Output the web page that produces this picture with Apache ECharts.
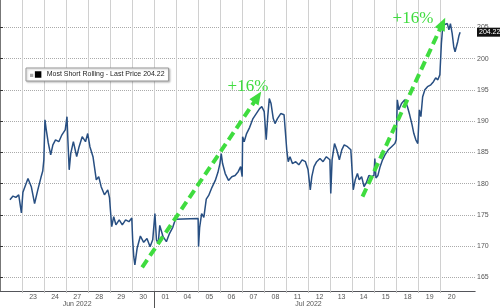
<!DOCTYPE html>
<html><head><meta charset="utf-8">
<script src="https://cdn.jsdelivr.net/npm/echarts@6/dist/echarts.min.js"></script>
<style>html,body{margin:0;padding:0;background:#fff}#c{width:500px;height:308px}</style>
</head><body><div id="c"></div>
<script>
// trading-day labels (day index 1..20; day 0 = 22 Jun, partially visible)
const dayLabels = ['23','24','27','28','29','30','01','04','05','06','07','08','11','12','13','14','15','18','19','20'];
const monthLabels = ['Jun 2022', 'Jul 2022'];
const monthLabelAt = [3.5, 14.0];
const monthStart = [7];
const yTicks = [165, 170, 175, 180, 185, 190, 195, 200, 205];
const xRange = [0, 21.555];
const yRange = [162.81, 209.37];
const seriesName = 'Most Short Rolling';
const lastPrice = 204.22;

// time in trading days since 22 Jun open
const times = [
  0.45,0.59,0.72,0.85,0.97,
  1.04,1.27,1.42,1.57,1.71,1.86,1.94,1.99,
  2.04,2.10,2.19,2.30,2.40,2.52,2.67,2.81,2.96,
  3.04,3.08,3.14,3.21,3.33,3.48,3.59,3.73,3.88,3.98,
  4.08,4.22,4.37,4.48,4.59,4.74,4.89,4.97,
  5.01,5.07,5.16,5.26,5.41,5.55,5.70,5.85,5.98,
  6.02,6.07,6.12,6.22,6.37,6.52,6.67,6.81,6.93,
  7.03,7.10,7.18,7.25,7.40,7.55,7.69,7.84,7.96,
  8.01,8.99,
  9.01,9.06,9.15,9.25,9.36,9.47,9.62,9.77,9.89,9.98,
  10.04,10.10,10.22,10.37,10.52,10.67,10.81,10.92,10.99,
  11.01,11.08,11.19,11.33,11.48,11.63,11.78,11.88,11.99,
  12.08,12.15,12.22,12.30,12.40,12.48,12.59,12.74,12.89,12.98,
  13.02,13.08,13.16,13.27,13.42,13.56,13.71,13.86,13.98,
  14.08,14.15,14.25,14.37,14.52,14.66,14.81,14.97,
  15.01,15.07,15.18,15.28,15.40,15.51,15.62,15.77,15.92,15.98,
  16.03,16.12,16.22,16.30,16.41,16.52,16.62,16.74,16.86,16.97,
  17.01,17.06,17.15,17.25,17.36,17.47,17.62,17.77,17.92,17.98,
  18.03,18.10,18.22,18.37,18.49,18.59,18.70,18.78,18.87,18.96,
  19.03,19.10,19.18,19.28,19.40,19.55,19.67,19.77,19.87,19.96,
  20.03,20.08,20.15,20.23,20.30,20.37,20.44,20.52,20.59,20.65,20.71,20.77,20.83,20.88
];
const prices = [
  177.4,178.0,177.8,178.2,175.3,
  178.6,180.8,179.5,176.8,178.9,181.0,182.0,183.8,
  190.2,188.6,186.5,184.6,186.2,187.0,186.7,187.8,188.6,
  190.7,187.0,182.2,184.8,186.7,184.3,185.9,187.5,186.7,188.0,
  185.9,184.3,180.6,181.1,179.5,178.2,179.0,177.7,
  175.8,173.1,174.7,173.4,174.2,173.4,174.2,173.9,174.5,
  171.0,168.3,167.0,169.6,171.6,170.6,171.2,169.9,171.0,
  175.2,171.0,170.4,173.3,171.5,170.7,172.0,173.0,174.3,
  174.4,174.4,
  169.9,173.0,175.2,174.6,177.5,178.1,179.4,180.5,181.8,183.2,
  184.8,183.2,181.6,180.5,181.1,181.3,181.9,182.7,181.1,
  187.5,186.7,188.0,189.0,190.4,191.2,192.0,192.3,191.5,
  187.0,190.7,193.6,192.8,190.4,189.6,190.4,191.2,191.0,190.7,
  185.1,183.5,184.3,183.2,183.5,183.0,183.8,183.5,182.2,
  179.0,181.1,182.7,183.5,184.0,183.5,184.3,183.8,
  178.4,183.8,186.4,185.4,183.8,185.4,186.2,185.9,185.4,185.6,
  179.0,180.6,181.6,180.6,181.1,179.5,180.1,181.3,181.1,181.3,
  184.0,180.9,181.3,182.7,183.8,184.6,185.4,185.9,186.4,187.0,
  193.4,191.8,192.8,193.4,192.3,191.0,189.4,188.0,187.0,186.4,
  191.8,190.7,193.9,195.0,195.5,195.8,196.3,196.9,196.6,197.4,
  202.4,204.6,205.4,205.1,205.6,204.6,205.6,204.0,201.9,201.1,201.9,202.7,203.7,204.22
];

// annotation arrows (time, price)
const arrowStart = [[6.45, 166.6], [16.45, 177.9]];
const arrowEnd = [[11.69, 193.85], [20.08, 205.6]];
const gainLabels = ['+16%', '+16%'];
const gainLabelAt = [[11.25, 195.45], [18.74, 206.44]];

const GREEN = '#3fdc3f';
const VGRID = '#d0d0d0';
const chart = echarts.init(document.getElementById('c'), null, {renderer: 'canvas'});
const dayBoundaries = dayLabels.map((d, i) => i + 1);
const dayCenters = dayLabels.map((d, i) => i + 1.5);
const axisFont = {fontFamily: 'Liberation Sans, Arial, sans-serif', fontSize: 7, color: '#555'};

chart.setOption({
  animation: false,
  grid: [
    {left: -10, right: 25, top: 0, bottom: 17, containLabel: false},
    {left: -10, right: 25, top: 290, bottom: 17, containLabel: false},
    {left: -10, right: 25, top: 0, bottom: 17, containLabel: false}
  ],
  legend: {
    data: [seriesName],
    left: 26, top: 68,
    padding: [3, 4, 3, 4],
    backgroundColor: '#fff',
    borderColor: '#999', borderWidth: 1,
    shadowColor: 'rgba(0,0,0,0.25)', shadowBlur: 2, shadowOffsetX: 1, shadowOffsetY: 1,
    icon: 'path://M0,3h4v4h-4zM6,0h8v8h-8z',
    itemWidth: 12, itemHeight: 6.5,
    itemStyle: {color: {type: 'linear', x: 0, y: 0, x2: 1, y2: 0, colorStops: [
      {offset: 0, color: '#aaa'}, {offset: 0.36, color: '#aaa'}, {offset: 0.36, color: '#000'}, {offset: 1, color: '#000'}]}},
    formatter: n => n + ' - Last Price ' + lastPrice.toFixed(2),
    textStyle: {fontFamily: 'Liberation Sans, sans-serif', fontSize: 7, color: '#222'}
  },
  xAxis: [{
    type: 'value', gridIndex: 0, min: xRange[0], max: xRange[1],
    axisLine: {show: true, onZero: false, lineStyle: {color: '#888', width: 1}},
    axisTick: {show: true, customValues: dayBoundaries, length: 2, lineStyle: {color: '#bbb'}},
    splitLine: {show: true, lineStyle: {color: VGRID, width: 1}},
    axisLabel: Object.assign({customValues: dayCenters, margin: 3,
      formatter: v => dayLabels[Math.round(v - 1.5)] || ''}, axisFont)
  }, {
    type: 'value', gridIndex: 1, min: xRange[0], max: xRange[1], position: 'bottom',
    axisLine: {show: false, onZero: false},
    axisTick: {show: true, customValues: monthStart, length: 17, lineStyle: {color: '#555', width: 1}},
    splitLine: {show: false},
    axisLabel: Object.assign({customValues: monthLabelAt, margin: 10,
      formatter: v => monthLabels[monthLabelAt.indexOf(v)] || ''}, axisFont)
  }, {
    type: 'value', gridIndex: 2, min: xRange[0], max: xRange[1],
    axisTick: {show: true, customValues: dayBoundaries, length: 0},
    splitLine: {show: true, lineStyle: {color: VGRID, width: 1}},
    axisLabel: {show: false}
  }],
  yAxis: [{
    type: 'value', gridIndex: 0, position: 'right', min: yRange[0], max: yRange[1],
    axisLine: {show: true, lineStyle: {color: '#777', width: 1}},
    axisTick: {show: true, customValues: yTicks, length: 3, lineStyle: {color: '#333'}},
    splitLine: {show: true, lineStyle: {color: '#aaa', type: 'dotted', width: 1}},
    axisLabel: Object.assign({customValues: yTicks, margin: 2}, axisFont)
  }, {
    type: 'value', gridIndex: 1, min: 0, max: 1, show: false
  }, {
    type: 'value', gridIndex: 2, min: 0, max: 1, show: false
  }],
  series: [{
    name: seriesName, type: 'line', xAxisIndex: 0, yAxisIndex: 0,
    data: times.map((t, i) => [t, prices[i]]),
    showSymbol: false, symbol: 'none',
    lineStyle: {color: '#284f82', width: 1.5},
    itemStyle: {color: '#284f82'},
    z: 3,
    markLine: {
      silent: true, symbol: 'none', animation: false,
      lineStyle: {color: 'rgba(0,0,0,0)', width: 0},
      label: {show: true, position: 'end', distance: 2, formatter: () => lastPrice.toFixed(2),
        backgroundColor: '#111', color: '#fff', fontSize: 7, fontFamily: 'Liberation Sans, Arial, sans-serif',
        padding: [1, 2, 1, 2]},
      data: [{yAxis: lastPrice}]
    }
  }, {
    name: 'annotations', type: 'line', data: [], xAxisIndex: 0, yAxisIndex: 0, z: 5,
    markLine: {
      silent: true, animation: false,
      symbol: ['none', 'triangle'], symbolSize: [11, 13],
      lineStyle: {color: GREEN, width: 4, type: [9, 5]},
      itemStyle: {color: GREEN},
      label: {show: false},
      data: arrowStart.map((s, i) => [{coord: s}, {coord: arrowEnd[i]}])
    },
    markPoint: {
      silent: true, animation: false,
      symbol: 'circle', symbolSize: 1, itemStyle: {color: 'rgba(0,0,0,0)'},
      label: {show: true, position: 'inside', color: GREEN,
        fontFamily: 'Liberation Serif, Times New Roman, serif', fontSize: 17,
        formatter: p => gainLabels[p.dataIndex]},
      data: gainLabelAt.map(c => ({coord: c}))
    }
  }]
});
</script></body></html>
